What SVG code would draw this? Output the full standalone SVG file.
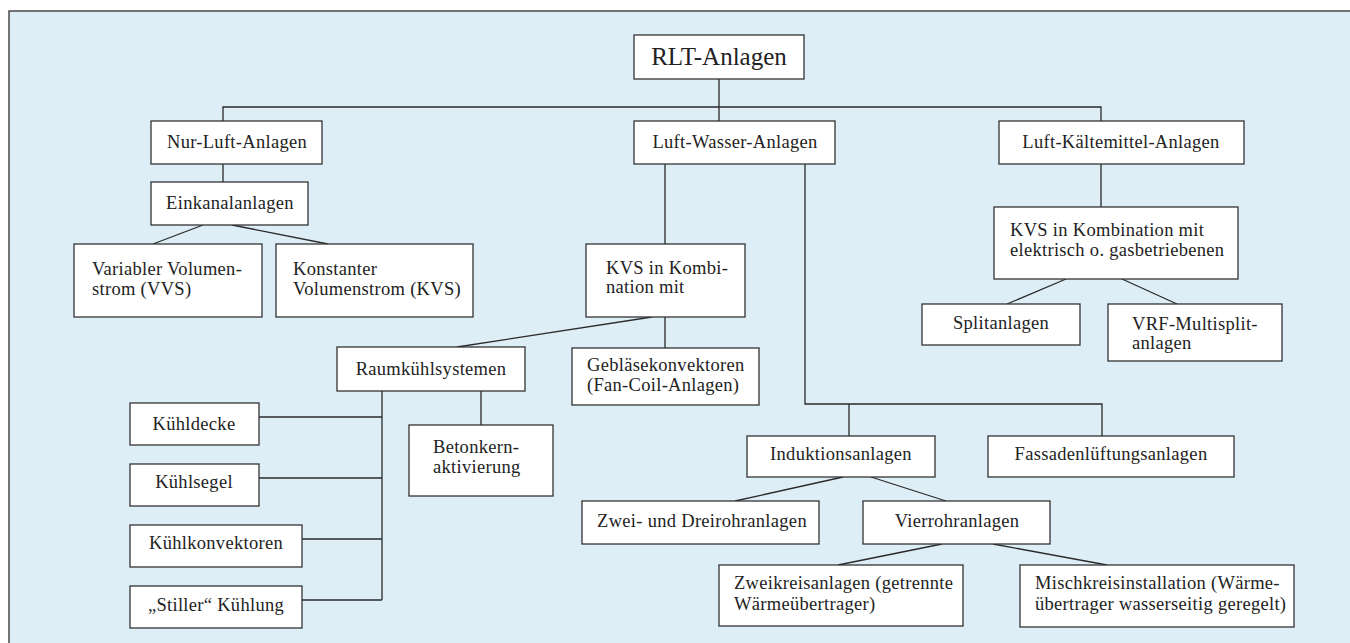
<svg xmlns="http://www.w3.org/2000/svg" width="1350" height="643" viewBox="0 0 1350 643">
<style>
.bg{fill:#ddeef7;stroke:#4a4a4a;stroke-width:1.5}
.n rect{fill:#fff;stroke:#333;stroke-width:1.3}
.n text{font-family:"Liberation Serif","Times New Roman",serif;font-size:18.5px;fill:#222;letter-spacing:0.3px}
.c{text-anchor:middle}
#conn path{fill:none;stroke:#2a2a2a;stroke-width:1.3}
</style>
<rect class="bg" x="9" y="11" width="1400" height="700"/>
<g id="conn">
<path d="M719 79V107M223 121V107H1101V121M719 107V121"/>
<path d="M223 164V182M203 225L153 244M232 225L328 244"/>
<path d="M1101 164V207M1066 279L1007 304M1122 279L1177 304"/>
<path d="M665 164V244M805 164V404H1102V436M849 404V436"/>
<path d="M652 317L457 347M665 317V348"/>
<path d="M481 391V425M382 391V600M259 417H382M259 478H382M302 539H382M302 600H382"/>
<path d="M843 477L735 501M871 477L946 501M942 544L838 565M993 544L1107 565"/>
</g>
<g id="rlt" class="n"><rect x="634" y="35" width="170" height="44"/><text class="c" x="719" y="65" style="font-size:25px;letter-spacing:0">RLT-Anlagen</text></g>
<g id="nurluft" class="n"><rect x="151" y="121" width="171" height="43"/><text class="c" x="237" y="148">Nur-Luft-Anlagen</text></g>
<g id="luftwasser" class="n"><rect x="634" y="121" width="201" height="43"/><text class="c" x="735" y="148">Luft-Wasser-Anlagen</text></g>
<g id="luftkaelte" class="n"><rect x="999" y="121" width="245" height="43"/><text class="c" x="1121" y="148">Luft-Kältemittel-Anlagen</text></g>
<g id="einkanal" class="n"><rect x="151" y="182" width="157" height="43"/><text class="c" x="230" y="209">Einkanalanlagen</text></g>
<g id="vvs" class="n"><rect x="74" y="244" width="188" height="73"/><text x="92" y="275">Variabler Volumen-</text><text x="92" y="295">strom (VVS)</text></g>
<g id="kvs" class="n"><rect x="276" y="244" width="197" height="73"/><text x="293" y="275">Konstanter</text><text x="293" y="295">Volumenstrom (KVS)</text></g>
<g id="kvskombi" class="n"><rect x="586" y="244" width="159" height="73"/><text x="606" y="274">KVS in Kombi-</text><text x="606" y="293">nation mit</text></g>
<g id="kvselektr" class="n"><rect x="994" y="207" width="244" height="72"/><text x="1010" y="236">KVS in Kombination mit</text><text x="1010" y="256">elektrisch o. gasbetriebenen</text></g>
<g id="split" class="n"><rect x="922" y="304" width="158" height="41"/><text class="c" x="1001" y="329">Splitanlagen</text></g>
<g id="vrf" class="n"><rect x="1108" y="304" width="174" height="57"/><text x="1132" y="330">VRF-Multisplit-</text><text x="1132" y="349">anlagen</text></g>
<g id="raumkuehl" class="n"><rect x="337" y="347" width="188" height="44"/><text class="c" x="431" y="375">Raumkühlsystemen</text></g>
<g id="geblaese" class="n"><rect x="572" y="348" width="187" height="57"/><text x="587" y="371">Gebläsekonvektoren</text><text x="587" y="391">(Fan-Coil-Anlagen)</text></g>
<g id="kuehldecke" class="n"><rect x="130" y="403" width="129" height="42"/><text class="c" x="194" y="430">Kühldecke</text></g>
<g id="kuehlsegel" class="n"><rect x="130" y="464" width="129" height="42"/><text class="c" x="194" y="488">Kühlsegel</text></g>
<g id="kuehlkonv" class="n"><rect x="130" y="525" width="172" height="42"/><text class="c" x="216" y="549">Kühlkonvektoren</text></g>
<g id="stiller" class="n"><rect x="130" y="586" width="172" height="42"/><text class="c" x="216" y="611">„Stiller“ Kühlung</text></g>
<g id="beton" class="n"><rect x="409" y="425" width="144" height="71"/><text x="433" y="453">Betonkern-</text><text x="433" y="473">aktivierung</text></g>
<g id="induktion" class="n"><rect x="747" y="436" width="188" height="41"/><text class="c" x="841" y="460">Induktionsanlagen</text></g>
<g id="fassade" class="n"><rect x="988" y="436" width="246" height="41"/><text class="c" x="1111" y="460">Fassadenlüftungsanlagen</text></g>
<g id="zweidrei" class="n"><rect x="582" y="501" width="237" height="43"/><text class="c" x="702" y="527">Zwei- und Dreirohranlagen</text></g>
<g id="vierrohr" class="n"><rect x="863" y="501" width="187" height="43"/><text class="c" x="957" y="527">Vierrohranlagen</text></g>
<g id="zweikreis" class="n"><rect x="719" y="565" width="244" height="61"/><text x="734" y="589">Zweikreisanlagen (getrennte</text><text x="734" y="610">Wärmeübertrager)</text></g>
<g id="mischkreis" class="n"><rect x="1020" y="565" width="274" height="62"/><text x="1035" y="589">Mischkreisinstallation (Wärme-</text><text x="1035" y="610">übertrager wasserseitig geregelt)</text></g>
</svg>
